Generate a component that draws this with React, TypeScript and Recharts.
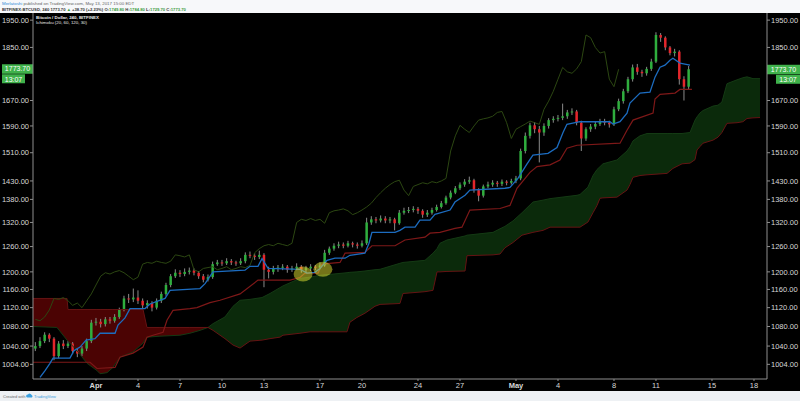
import React from "react";
import { ComposedChart, XAxis, YAxis, Bar, Line, Area, ReferenceLine, ReferenceDot } from "recharts";

// ---- time layout (days from Apr 1, 2017) ----
const FIRST_CANDLE_DAY = -13 / 3; // Mar 27, 16:00
const CANDLE_STEP_DAYS = 1 / 3; // 8h candles
const LAG_DAYS = 5; // lagging span displacement (30 x 4h)
const X_MIN = -4.5;
const X_MAX = 47.93;

// ---- candles ----
const opens = [
  1035, 1040, 1050, 1063, 1055, 1020, 1045, 1040, 1045, 1030,
  1025, 1035, 1050, 1088, 1090, 1085, 1095, 1092, 1100, 1115,
  1140, 1138, 1142, 1135, 1125, 1130, 1120, 1135, 1150, 1170,
  1190, 1198, 1195, 1200, 1203, 1198, 1190, 1182, 1188, 1218,
  1222, 1220, 1225, 1222, 1220, 1225, 1240, 1238, 1235, 1240,
  1205, 1200, 1208, 1210, 1212, 1205, 1208, 1212, 1205, 1208,
  1212, 1210, 1215, 1245, 1255, 1262, 1265, 1262, 1268, 1265,
  1262, 1268, 1320, 1328, 1325, 1330, 1325, 1328, 1318, 1345,
  1350, 1352, 1355, 1350, 1340, 1345, 1352, 1360, 1370, 1385,
  1398, 1410, 1420, 1428, 1432, 1405, 1390, 1415, 1420, 1425,
  1422, 1428, 1425, 1430, 1437, 1515, 1560, 1592, 1580, 1570,
  1590, 1608, 1612, 1615, 1620, 1632, 1635, 1600, 1552, 1580,
  1588, 1596, 1605, 1600, 1595, 1642, 1668, 1700, 1740, 1780,
  1765, 1760, 1775, 1800, 1895, 1885, 1850, 1830, 1835, 1740,
  1715,
];
const highs = [
  1048, 1058, 1068, 1066, 1058, 1050, 1052, 1050, 1048, 1036,
  1040, 1055, 1094, 1098, 1096, 1100, 1100, 1106, 1120, 1146,
  1150, 1162, 1158, 1140, 1136, 1134, 1140, 1155, 1175, 1195,
  1206, 1204, 1208, 1210, 1208, 1202, 1195, 1194, 1224, 1228,
  1228, 1232, 1230, 1226, 1232, 1246, 1248, 1244, 1250, 1244,
  1212, 1214, 1216, 1218, 1216, 1214, 1220, 1216, 1214, 1218,
  1216, 1222, 1252, 1260, 1268, 1272, 1270, 1274, 1272, 1270,
  1275, 1332, 1336, 1334, 1338, 1336, 1334, 1332, 1352, 1358,
  1360, 1362, 1360, 1354, 1352, 1358, 1366, 1376, 1390, 1404,
  1416, 1426, 1435, 1442, 1436, 1410, 1420, 1428, 1432, 1430,
  1434, 1432, 1436, 1444, 1522, 1570, 1600, 1602, 1590, 1598,
  1614, 1620, 1624, 1660, 1640, 1645, 1640, 1606, 1586, 1596,
  1604, 1612, 1612, 1606, 1650, 1676, 1708, 1748, 1790, 1792,
  1772, 1782, 1810, 1905, 1902, 1890, 1855, 1845, 1840, 1750,
  1784.8,
];
const lows = [
  1030, 1036, 1046, 1048, 1012, 1016, 1034, 1036, 1024, 1018,
  1020, 1030, 1046, 1082, 1078, 1080, 1086, 1088, 1096, 1112,
  1130, 1132, 1128, 1118, 1118, 1112, 1116, 1130, 1146, 1165,
  1186, 1188, 1190, 1194, 1192, 1184, 1176, 1178, 1184, 1214,
  1214, 1216, 1216, 1214, 1216, 1220, 1232, 1228, 1230, 1165,
  1185, 1194, 1200, 1204, 1198, 1200, 1204, 1198, 1196, 1202,
  1204, 1206, 1212, 1240, 1250, 1256, 1256, 1258, 1258, 1255,
  1258, 1264, 1314, 1318, 1320, 1318, 1318, 1300, 1314, 1340,
  1344, 1346, 1342, 1332, 1334, 1340, 1348, 1356, 1366, 1380,
  1394, 1405, 1414, 1422, 1398, 1375, 1385, 1410, 1414, 1414,
  1416, 1418, 1420, 1424, 1432, 1508, 1552, 1568, 1482, 1560,
  1582, 1600, 1604, 1608, 1612, 1624, 1592, 1515, 1545, 1572,
  1580, 1590, 1592, 1585, 1590, 1636, 1660, 1694, 1732, 1755,
  1748, 1752, 1768, 1795, 1870, 1840, 1822, 1818, 1722, 1670,
  1705,
];
const closes = [
  1040, 1050, 1063, 1055, 1020, 1045, 1040, 1045, 1030, 1025,
  1035, 1050, 1088, 1090, 1085, 1095, 1092, 1100, 1115, 1140,
  1138, 1142, 1135, 1125, 1130, 1120, 1135, 1150, 1170, 1190,
  1198, 1195, 1200, 1203, 1198, 1190, 1182, 1188, 1218, 1222,
  1220, 1225, 1222, 1220, 1225, 1240, 1238, 1235, 1240, 1205,
  1200, 1208, 1210, 1212, 1205, 1208, 1212, 1205, 1208, 1212,
  1210, 1215, 1245, 1255, 1262, 1265, 1262, 1268, 1265, 1262,
  1268, 1320, 1328, 1325, 1330, 1325, 1328, 1318, 1345, 1350,
  1352, 1355, 1350, 1340, 1345, 1352, 1360, 1370, 1385, 1398,
  1410, 1420, 1428, 1432, 1405, 1390, 1415, 1420, 1425, 1422,
  1428, 1425, 1430, 1437, 1515, 1560, 1592, 1580, 1570, 1590,
  1608, 1612, 1615, 1620, 1632, 1635, 1600, 1552, 1580, 1588,
  1596, 1605, 1600, 1595, 1642, 1668, 1700, 1740, 1780, 1765,
  1760, 1775, 1800, 1895, 1885, 1850, 1830, 1835, 1740, 1715,
  1773.7,
];

// ---- Ichimoku lines [day, price] ----
const tenkan: [number, number][] = [
  [-4.0, 979], [-3.64, 992], [-3.29, 1006], [-3.07, 1016], [-1.86, 1016], [-1.57, 1031], [-1.14, 1038],
  [-0.71, 1052], [-0.07, 1055], [0.29, 1066], [1.36, 1066], [1.57, 1083], [2.07, 1098], [2.43, 1118],
  [3.5, 1118], [3.86, 1128], [4.93, 1140], [5.29, 1158], [7.43, 1162], [7.79, 1173], [8.36, 1200],
  [10.64, 1204], [11.0, 1213], [11.57, 1213], [11.86, 1231], [12.29, 1208], [14.57, 1206], [15.07, 1197],
  [15.64, 1199], [16.0, 1208], [16.5, 1227], [17.07, 1232], [17.79, 1232], [18.14, 1239], [19.21, 1244],
  [19.5, 1268], [19.71, 1295], [21.36, 1295], [21.71, 1300], [22.07, 1308], [22.79, 1308], [23.14, 1326],
  [23.86, 1326], [24.21, 1341], [25.29, 1352], [25.64, 1373], [26.36, 1391], [26.71, 1405], [29.21, 1410],
  [29.57, 1412], [30.14, 1437], [30.79, 1478], [31.21, 1503], [32.29, 1508], [32.93, 1525], [33.36, 1570],
  [33.64, 1595], [34.57, 1603], [36.71, 1603], [36.93, 1596], [37.43, 1603], [37.93, 1630], [38.14, 1662],
  [38.86, 1694], [39.57, 1697], [39.93, 1747], [40.29, 1781], [40.64, 1788], [41.0, 1805], [41.21, 1812],
  [41.71, 1795], [42.43, 1788],
];
const kijun: [number, number][] = [
  [-4.5, 1008], [-0.43, 1008], [0.07, 996], [1.36, 998], [1.71, 1018], [2.64, 1026], [3.36, 1038],
  [3.64, 1058], [4.07, 1062], [4.79, 1068], [5.07, 1093], [5.5, 1114], [6.71, 1118], [7.21, 1120],
  [8.14, 1131], [8.86, 1136], [10.29, 1150], [11.57, 1181], [13.86, 1181], [14.57, 1187], [14.93, 1197],
  [15.86, 1197], [16.14, 1218], [17.43, 1222], [17.79, 1244], [19.21, 1246], [19.71, 1262], [21.36, 1262],
  [22.07, 1276], [23.5, 1283], [23.86, 1293], [24.57, 1295], [25.64, 1305], [26.14, 1308], [26.71, 1352],
  [28.86, 1356], [29.57, 1364], [30.07, 1410], [31.0, 1454], [31.5, 1470], [32.43, 1475], [33.14, 1489],
  [33.64, 1523], [34.36, 1532], [37.43, 1538], [37.93, 1577], [38.36, 1608], [39.79, 1630], [39.93, 1675],
  [40.29, 1690], [41.36, 1694], [41.71, 1706], [42.57, 1706],
];

// ---- cloud (leading spans A and B) ----
const cloudDays = [
  -4.5, -2.79, -2.07, -2.0, -1.36, -0.64, 0.07, 0.29, 0.79, 1.21, 1.71, 2.64, 3.36, 3.64, 4.57, 6.0, 6.71,
  7.43, 8.0, 8.36, 9.21, 9.79, 10.29, 11.0, 11.86, 12.43, 13.14, 13.36, 14.57, 15.29, 16.0, 17.93, 18.14,
  18.64, 19.21, 19.93, 20.29, 21.71, 21.93, 23.5, 24.07, 24.36, 24.57, 25.07, 26.36, 26.5, 28.36, 28.86,
  29.21, 29.79, 30.43, 31.21, 31.93, 32.43, 34.36, 34.57, 35.14, 35.5, 35.79, 36.0, 36.21, 37.21, 37.93,
  38.14, 38.36, 38.86, 39.36, 40.79, 41.21, 41.86, 42.43, 42.79, 42.93, 43.14, 43.36, 44.07, 44.43, 44.71,
  45.07, 45.79, 46.21, 46.5, 46.93, 47.43,
];
const spanA = [
  1080, 1078, 1052, 1050, 1031, 1006, 992, 986, 988, 998, 1018, 1028, 1046, 1058, 1060, 1062, 1066, 1072,
  1078, 1086, 1100, 1123, 1136, 1138, 1142, 1151, 1164, 1168, 1185, 1188, 1192, 1198, 1199, 1200, 1202,
  1205, 1206, 1220, 1222, 1227, 1244, 1255, 1268, 1276, 1286, 1288, 1295, 1304, 1310, 1324, 1345, 1373,
  1378, 1382, 1391, 1393, 1413, 1445, 1462, 1470, 1478, 1489, 1515, 1527, 1545, 1560, 1567, 1567, 1567,
  1567, 1570, 1608, 1618, 1630, 1638, 1652, 1655, 1665, 1725, 1738, 1745, 1748, 1742, 1742,
];
const spanB = [
  1140, 1140, 1140, 1116, 1116, 1116, 1116, 1116, 1116, 1116, 1116, 1116, 1116, 1078, 1078, 1078, 1078,
  1078, 1078, 1072, 1055, 1042, 1036, 1050, 1052, 1055, 1058, 1062, 1066, 1069, 1069, 1069, 1089, 1099,
  1108, 1123, 1127, 1129, 1151, 1155, 1158, 1200, 1200, 1201, 1202, 1238, 1240, 1242, 1257, 1270, 1288,
  1295, 1300, 1308, 1308, 1308, 1321, 1345, 1364, 1383, 1384, 1386, 1405, 1420, 1440, 1445, 1447, 1451,
  1465, 1478, 1480, 1490, 1518, 1528, 1538, 1547, 1556, 1570, 1598, 1600, 1603, 1613, 1615, 1616,
];
const CLOUD_CROSS_DAY = 8.0;

// ---- axes ----
const xTicks = [0, 3, 6, 9, 12, 16, 19, 23, 26, 30, 33, 37, 40, 44, 47];
const xTickLabels = ["Apr", "4", "7", "10", "13", "17", "20", "24", "27", "May", "4", "8", "11", "15", "18"];
const yTicks = [1004, 1040, 1080, 1120, 1160, 1200, 1260, 1320, 1380, 1430, 1510, 1590, 1670, 1850, 1950];
const Y_DOMAIN: [number, number] = [976, 1977];

const lastPrice = 1773.7;
const countdown = "13:07";
const highlights: [number, number][] = [
  [14.79, 1195],
  [16.21, 1206],
];

// ---- colours ----
const UP = "#2fae3e";
const DOWN = "#e4262b";
const WICK = "#8a8a8a";
const AXIS = "#8e8e8e";
const TICK_TEXT = "#d8d8d8";
const TAG = "#3fb24b";

const Candle = (props: any) => {
  const { x, y, width, height, payload } = props;
  if (x == null || y == null || !payload) return null;
  const { open, close, high, low } = payload;
  const yTop = Math.min(y, y + height);
  const yBot = Math.max(y, y + height);
  const left = Math.min(x, x + width);
  const w = Math.abs(width);
  const cx = left + w / 2;
  const lh = Math.log(high);
  const ll = Math.log(low);
  const toY = (v: number) => (lh === ll ? yTop : yTop + ((yBot - yTop) * (lh - Math.log(v))) / (lh - ll));
  const yo = toY(open);
  const yc = toY(close);
  const top = Math.min(yo, yc);
  const bh = Math.max(1, Math.abs(yc - yo));
  const bw = w >= 1 ? w : 2.5;
  return (
    <g>
      <line x1={cx} x2={cx} y1={yTop} y2={yBot} stroke={WICK} strokeWidth={1} />
      <rect x={cx - bw / 2} y={top} width={bw} height={bh} fill={close >= open ? UP : DOWN} />
    </g>
  );
};

const XTick = (props: any) => {
  const { x, y, payload } = props;
  const idx = xTicks.indexOf(payload.value);
  const label = idx >= 0 ? xTickLabels[idx] : "";
  const bold = label === "Apr" || label === "May";
  return (
    <text x={x} y={y + 5} textAnchor="middle" fill={TICK_TEXT} fontSize={7.5} fontWeight={bold ? "bold" : "normal"}>
      {label}
    </text>
  );
};

const PriceTags = (props: any) => {
  const vb = props.viewBox || {};
  const { x, y, width } = vb;
  if (x == null || y == null) return null;
  const l = x - 31;
  const r = x + width;
  return (
    <g>
      <rect x={l} y={y - 5} width={31} height={9.5} fill={TAG} />
      <text x={l + 15.5} y={y + 2.2} textAnchor="middle" fill="#fff" fontSize={7}>
        {lastPrice.toFixed(2)}
      </text>
      <rect x={l} y={y + 5} width={23} height={9} fill={TAG} />
      <text x={l + 11.5} y={y + 12.3} textAnchor="middle" fill="#fff" fontSize={7}>
        {countdown}
      </text>
      <rect x={r} y={y - 4.5} width={33} height={9.5} fill={TAG} />
      <text x={r + 16.5} y={y + 2.7} textAnchor="middle" fill="#fff" fontSize={7}>
        {lastPrice.toFixed(2)}
      </text>
      <rect x={r + 9} y={y + 5.5} width={24} height={9} fill={TAG} />
      <text x={r + 21} y={y + 12.8} textAnchor="middle" fill="#fff" fontSize={7}>
        {countdown}
      </text>
    </g>
  );
};

const Highlight = (props: any) => {
  const { cx, cy } = props;
  if (cx == null || cy == null) return null;
  return <ellipse cx={cx} cy={cy} rx={9.5} ry={7.5} fill="#e6e632" fillOpacity={0.5} />;
};

export default function App() {
  const candles = closes.map((c, i) => ({
    t: FIRST_CANDLE_DAY + i * CANDLE_STEP_DAYS,
    open: opens[i],
    high: highs[i],
    low: lows[i],
    close: c,
  }));
  const lagging = closes
    .map((c, i) => ({ t: FIRST_CANDLE_DAY + i * CANDLE_STEP_DAYS - LAG_DAYS, v: c }))
    .filter((d) => d.t >= X_MIN);
  const tenkanData = tenkan.map(([t, v]) => ({ t, v }));
  const kijunData = kijun.map(([t, v]) => ({ t, v }));
  const cloud = cloudDays.map((t, i) => ({ t, a: spanA[i], b: spanB[i] }));
  const redCloud = cloud.filter((d) => d.t <= CLOUD_CROSS_DAY);
  const greenCloud = cloud.filter((d) => d.t >= CLOUD_CROSS_DAY);

  const yCommon = {
    type: "number" as const,
    scale: "log" as const,
    domain: Y_DOMAIN,
    allowDataOverflow: true,
    ticks: yTicks,
    interval: 0 as const,
    width: 33,
    tickSize: 3,
    tickMargin: 1,
    tickFormatter: (v: number) => v.toFixed(2),
    tick: { fill: TICK_TEXT, fontSize: 7.5 },
    axisLine: { stroke: AXIS },
    tickLine: { stroke: AXIS },
  };

  return (
    <div
      style={{
        position: "absolute",
        left: 0,
        top: 0,
        width: 800,
        height: 401,
        background: "#eef1f4",
        overflow: "hidden",
        fontFamily: "'Liberation Sans', Arial, sans-serif",
      }}
    >
      <svg width={800} height={13} style={{ position: "absolute", left: 0, top: 0 }}>
        <rect width={800} height={13} fill="#f7f8fa" />
        <text x={2} y={5} fontSize={4.4} fill="#666">
          <tspan fill="#2b8ad6">Merlatoshi</tspan> published on TradingView.com, May 13, 2017 15:00 EDT
        </text>
        <text x={2} y={10.6} fontSize={4.2} fill="#333" fontWeight="bold">
          BITFINEX:BTCUSD, 240 1773.70 <tspan fill="#3a9a3a">▲</tspan> +38.70 (+2.23%) O:
          <tspan fill="#3a9a3a">1749.80</tspan> H:<tspan fill="#3a9a3a">1784.80</tspan> L:
          <tspan fill="#3a9a3a">1729.70</tspan> C:<tspan fill="#3a9a3a">1773.70</tspan>
        </text>
      </svg>

      <div style={{ position: "absolute", left: 0, top: 13, width: 800, height: 378, background: "#000" }}>
        <ComposedChart width={800} height={378} data={candles} margin={{ top: 0, right: 0, bottom: 0, left: 0 }}>
          <XAxis
            dataKey="t"
            type="number"
            domain={[X_MIN, X_MAX]}
            allowDataOverflow
            ticks={xTicks}
            interval={0}
            height={12}
            tick={<XTick />}
            tickSize={2}
            axisLine={{ stroke: AXIS }}
            tickLine={{ stroke: AXIS }}
          />
          <YAxis yAxisId="L" orientation="left" {...yCommon} />
          <YAxis yAxisId="R" orientation="right" {...yCommon} />

          <Area
            yAxisId="L"
            data={redCloud}
            dataKey={(d: any) => [d.a, d.b]}
            type="linear"
            fill="#4b0303"
            fillOpacity={1}
            stroke="none"
            isAnimationActive={false}
          />
          <Area
            yAxisId="L"
            data={greenCloud}
            dataKey={(d: any) => [d.b, d.a]}
            type="linear"
            fill="#0b2a0b"
            fillOpacity={1}
            stroke="none"
            isAnimationActive={false}
          />
          <Line yAxisId="L" data={cloud} dataKey="a" type="linear" stroke="#143a14" strokeWidth={1} dot={false} isAnimationActive={false} />
          <Line yAxisId="L" data={cloud} dataKey="b" type="linear" stroke="#651313" strokeWidth={1} dot={false} isAnimationActive={false} />
          <Line yAxisId="L" data={lagging} dataKey="v" type="linear" stroke="#2c4712" strokeWidth={1} dot={false} isAnimationActive={false} />

          <Bar
            yAxisId="L"
            dataKey={(d: any) => [d.low, d.high]}
            barSize={2.5}
            shape={<Candle />}
            isAnimationActive={false}
          />

          <Line yAxisId="R" data={kijunData} dataKey="v" type="linear" stroke="#7e1818" strokeWidth={1.2} dot={false} isAnimationActive={false} />
          <Line yAxisId="R" data={tenkanData} dataKey="v" type="linear" stroke="#1c6cc0" strokeWidth={1.3} dot={false} isAnimationActive={false} />

          {highlights.map(([t, p], i) => (
            <ReferenceDot key={i} yAxisId="L" x={t} y={p} r={9} shape={<Highlight />} ifOverflow="visible" />
          ))}

          <ReferenceLine yAxisId="L" y={lastPrice} stroke="none" label={<PriceTags />} />
        </ComposedChart>

        <svg width={200} height={30} style={{ position: "absolute", left: 0, top: 0, pointerEvents: "none" }}>
          <text x={36} y={5.5} fontSize={4.4} fill="#e8e8e8" fontWeight="bold">
            Bitcoin / Dollar, 240, BITFINEX
          </text>
          <text x={36} y={11} fontSize={4.4} fill="#e8e8e8">
            Ichimoku (20, 60, 120, 30)
          </text>
        </svg>
      </div>

      <svg width={120} height={10} style={{ position: "absolute", left: 0, top: 391 }}>
        <text x={3} y={6.5} fontSize={4} fill="#666">
          Created with
        </text>
        <path d="M27 6.5 a1.6 1.6 0 0 1 1 -3 a2 2 0 0 1 3.6 0.6 a1.3 1.3 0 0 1 0.2 2.4 z" fill="#3aa0e0" />
        <text x={34} y={6.5} fontSize={4} fill="#3aa0e0">
          TradingView
        </text>
      </svg>
    </div>
  );
}
